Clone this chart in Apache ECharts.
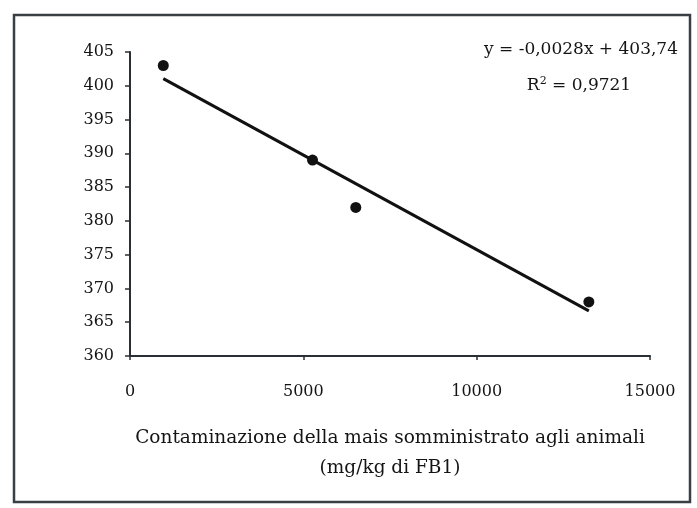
<!DOCTYPE html>
<html>
<head>
<meta charset="utf-8">
<script src="https://cdn.jsdelivr.net/npm/echarts@6/dist/echarts.min.js"></script>
<style>
html,body{margin:0;padding:0;background:#fff;}
#chart{width:697px;height:508px;}
</style>
</head>
<body>
<div id="chart"></div>
<script>
// Data
var contamination = [960, 5265, 6513, 13236];   // mg/kg di FB1
var values = [403, 389, 382, 368];
var xTicks = [0, 5000, 10000, 15000];
var yTicks = [360, 365, 370, 375, 380, 385, 390, 395, 400, 405];
var trendSlope = -0.0028;
var trendIntercept = 403.74;
var equationText = 'y = -0,0028x + 403,74';
var r2Text = 'R{sup|2} = 0,9721';
var xTitle = 'Contaminazione della mais somministrato agli animali\n(mg/kg di FB1)';

var points = contamination.map(function (x, i) { return [x, values[i]]; });
var xMin = Math.min.apply(null, contamination);
var xMax = Math.max.apply(null, contamination);
var trend = [[xMin, trendSlope * xMin + trendIntercept], [xMax, trendSlope * xMax + trendIntercept]];

var font = 'DejaVu Serif';
var ink = '#141414';
var chart = echarts.init(document.getElementById('chart'));
chart.setOption({
  animation: false,
  backgroundColor: '#fff',
  grid: { left: 130, top: 52, right: 47, bottom: 152, containLabel: false },
  xAxis: {
    type: 'value', min: xTicks[0], max: xTicks[xTicks.length - 1], interval: 5000,
    axisLine: { show: true, lineStyle: { color: '#2a2f36', width: 2 } },
    axisTick: { show: true, length: 4, lineStyle: { color: '#2a2f36', width: 1.5 } },
    axisLabel: { color: ink, fontFamily: font, fontSize: 16, margin: 28,
      formatter: function (v) { return String(v); } },
    splitLine: { show: false },
    name: xTitle, nameLocation: 'middle', nameGap: 67,
    nameTextStyle: { color: ink, fontFamily: font, fontSize: 18.5, lineHeight: 30 }
  },
  yAxis: {
    type: 'value', min: yTicks[0], max: yTicks[yTicks.length - 1], interval: 5,
    axisLine: { show: true, lineStyle: { color: '#2a2f36', width: 2 } },
    axisTick: { show: true, length: 5, lineStyle: { color: '#2a2f36', width: 1.5 } },
    axisLabel: { color: ink, fontFamily: font, fontSize: 16, margin: 16 },
    splitLine: { show: false }
  },
  series: [
    {
      type: 'line', data: trend, showSymbol: false, symbol: 'none',
      lineStyle: { color: '#111', width: 3 }, z: 2
    },
    {
      type: 'scatter', data: points, symbol: 'circle', symbolSize: 11,
      itemStyle: { color: '#111', opacity: 1 }, z: 3
    }
  ],
  graphic: [
    {
      type: 'rect', shape: { x: 14, y: 15, width: 676, height: 487 },
      style: { fill: 'none', stroke: '#3a3f45', lineWidth: 2.5 }, silent: true
    },
    {
      type: 'text', x: 581, y: 50,
      style: { text: equationText, fill: ink, font: '17px "DejaVu Serif"', align: 'center', verticalAlign: 'middle' }
    },
    {
      type: 'text', x: 579, y: 86,
      style: {
        text: r2Text, fill: ink, font: '17px "DejaVu Serif"', align: 'center', verticalAlign: 'middle',
        rich: { sup: { fontSize: 11, verticalAlign: 'top', padding: [0, 0, 9, 0], fontFamily: font } }
      }
    }
  ]
});
</script>
</body>
</html>
